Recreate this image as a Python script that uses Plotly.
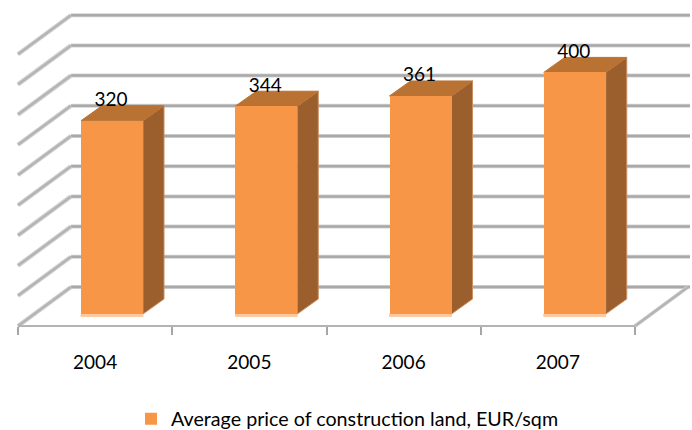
import plotly.graph_objects as go

years = ["2004", "2005", "2006", "2007"]
prices = [320, 344, 361, 400]
grid_levels = [0, 50, 100, 150, 200, 250, 300, 350, 400, 450]
series_name = "Average price of construction land, EUR/sqm"

W, H = 692, 430
PX_PER_UNIT = 0.604
BASE_PX = 314          # pixel row of value 0 at the bar front
AX_L, AX_R, AX_Y = 18, 635, 326
WALL_DX, WALL_BACK = 53, 287
WALL_R = 690
BAR_L0, BAR_W, STEP = 81, 62, 154.25
DX, DY = 21, 15 / PX_PER_UNIT

FRONT = "#f79646"
TOP = "#b97232"
SIDE = "#9a5f2c"
EDGE = "#c98f63"
GRID = "#a9a9a9"
GRID_SOFT = "#d6d6d6"
FONT = "Lato"

ymin = (BASE_PX - H) / PX_PER_UNIT
ymax = BASE_PX / PX_PER_UNIT
wall_off = (BASE_PX - WALL_BACK) / PX_PER_UNIT
floor_off = (BASE_PX - AX_Y) / PX_PER_UNIT

shapes = []


def line(x0, y0, x1, y1, color, width):
    shapes.append(dict(type="line", xref="x", yref="y", x0=x0, y0=y0, x1=x1, y1=y1,
                       line=dict(color=color, width=width), layer="below"))


def poly(pts, fill, edge=None):
    path = "M" + " L".join(f"{x},{y}" for x, y in pts) + " Z"
    shapes.append(dict(type="path", xref="x", yref="y", path=path, fillcolor=fill,
                       line=dict(color=edge or fill, width=1), layer="below"))


# back wall and side wall grid
for lv in grid_levels:
    y_back = lv + wall_off
    y_front = lv + floor_off
    line(AX_L + WALL_DX, y_back, WALL_R, y_back, GRID_SOFT, 4)
    line(AX_L + WALL_DX, y_back, WALL_R, y_back, GRID, 2.5)
    line(AX_L, y_front, AX_L + WALL_DX, y_back, GRID_SOFT, 4.5)
    line(AX_L, y_front, AX_L + WALL_DX, y_back, "#b4b4b4", 2.5)
# floor right edge
line(AX_R, floor_off, AX_R + WALL_DX, wall_off, GRID_SOFT, 4)
line(AX_R, floor_off, AX_R + WALL_DX, wall_off, "#b4b4b4", 2.5)

# extruded faces of the columns
for i, v in enumerate(prices):
    l = BAR_L0 + i * STEP
    r = l + BAR_W
    poly([(r, 0), (r + DX, DY), (r + DX, v + DY), (r, v)], SIDE, EDGE)
    poly([(l, v), (r, v), (r + DX, v + DY), (l + DX, v + DY)], TOP)
    poly([(l, -4), (r, -4), (r, 0), (l, 0)], "#fcc99f")

cat_w = (AX_R - AX_L) / len(years)
fig = go.Figure()
fig.add_trace(go.Scatter(
    x=[BAR_L0 + BAR_W / 2 - 1 + i * STEP for i in range(len(years))],
    y=[v + 32 for v in prices],
    text=[str(v) for v in prices],
    mode="text", textposition="middle center",
    textfont=dict(family=FONT, size=19, color="#000000"),
    xaxis="x", yaxis="y", showlegend=False, cliponaxis=False, hoverinfo="skip",
))
fig.add_trace(go.Bar(
    x=years, y=prices, name=series_name, xaxis="x2", yaxis="y",
    width=BAR_W / cat_w,
    offset=(BAR_L0 - (AX_L + cat_w / 2)) / cat_w,
    marker=dict(color=FRONT, line=dict(width=0)),
    showlegend=True,
))

fig.update_layout(
    width=W, height=H, margin=dict(l=0, r=0, t=0, b=0, autoexpand=False),
    paper_bgcolor="white", plot_bgcolor="rgba(0,0,0,0)",
    shapes=shapes, showlegend=True, bargap=0,
    font=dict(family=FONT, color="#000000"),
    xaxis=dict(domain=[0, 1], range=[0, W], anchor="y", visible=False, fixedrange=True),
    xaxis2=dict(
        type="category", domain=[AX_L / W, AX_R / W], range=[-0.5, len(years) - 0.5],
        anchor="free", position=(H - AX_Y) / H, tickson="boundaries",
        ticks="outside", ticklen=8, tickcolor="#a6a6a6", tickwidth=1.5,
        showline=True, linecolor="#b3b3b3", linewidth=2, showgrid=False,
        tickfont=dict(family=FONT, size=19), ticklabelstandoff=19, zeroline=False,
        fixedrange=True,
    ),
    yaxis=dict(domain=[0, 1], range=[ymin, ymax], visible=False, fixedrange=True),
    legend=dict(
        x=131 / W, xanchor="left", y=(H - 419) / H, yanchor="middle",
        orientation="h", font=dict(family=FONT, size=19.7),
        bgcolor="rgba(0,0,0,0)", itemwidth=30,
    ),
)

fig.write_html("out.html", post_script="document.body.style.margin='0';",
               config={"displayModeBar": False})
